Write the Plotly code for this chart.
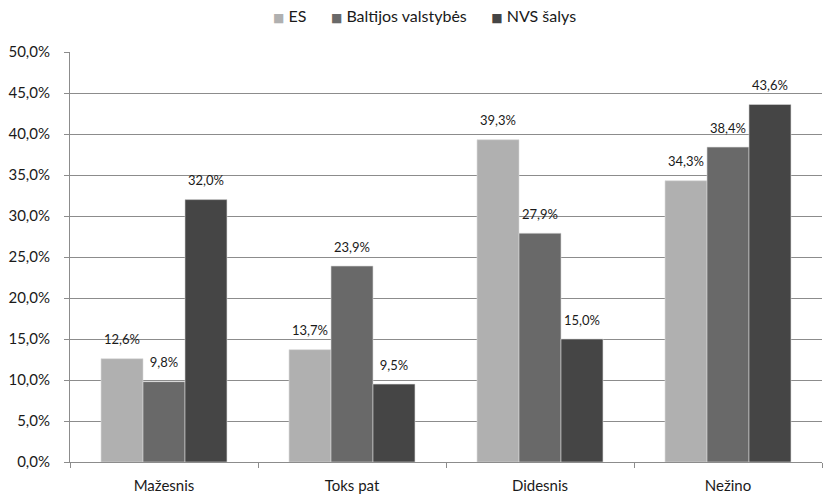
import plotly.graph_objects as go

categories = ["Mažesnis", "Toks pat", "Didesnis", "Nežino"]
es = [12.6, 13.7, 39.3, 34.3]
baltijos = [9.8, 23.9, 27.9, 38.4]
nvs = [32.0, 9.5, 15.0, 43.6]
series_names = ["ES", "Baltijos valstybės", "NVS šalys"]
colors = ["#b0b0b0", "#696969", "#454545"]

FONT = "Lato, Open Sans, sans-serif"

fig = go.Figure()
for name, vals, col in zip(series_names, [es, baltijos, nvs], colors):
    fig.add_trace(go.Bar(
        x=categories, y=vals, name=name, showlegend=False,
        marker=dict(color=col, line=dict(color="#d8d8d8", width=0.6)),
        hoverinfo="skip", offsetgroup=name, alignmentgroup="g",
    ))
for name, vals in zip(series_names, [es, baltijos, nvs]):
    fig.add_trace(go.Scatter(
        x=categories, y=vals, name=name, showlegend=False,
        mode="markers+text", marker=dict(size=16, opacity=0),
        text=[f"{v:.1f}%".replace(".", ",") for v in vals],
        textposition="top center", cliponaxis=False, hoverinfo="skip",
        textfont=dict(size=13, color="#1a1a1a", family=FONT),
        offsetgroup=name, alignmentgroup="g",
    ))

legend_text = "      ".join(
    f"<span style='color:{c}; font-family:DejaVu Sans; font-size:12px'>■</span> {n}"
    for n, c in zip(series_names, colors)
)
fig.add_annotation(
    xref="paper", yref="paper", x=0.471, y=1.088, xanchor="center", yanchor="middle",
    text=legend_text, showarrow=False, font=dict(size=16, family=FONT, color="#1a1a1a"),
)

fig.update_layout(
    width=823, height=495,
    barmode="group", bargap=0.33, bargroupgap=0,
    scattermode="group", scattergap=0.33,
    paper_bgcolor="white", plot_bgcolor="white",
    margin=dict(l=70, r=1, t=52, b=33, autoexpand=False),
    separators=", ",
    font=dict(family=FONT, size=15, color="#1a1a1a"),
    showlegend=False,
)
fig.update_yaxes(
    range=[0, 50], dtick=5, tickformat=".1f", ticksuffix="%",
    showgrid=True, gridcolor="#8c8c8c", gridwidth=1,
    showline=True, linecolor="#8c8c8c", linewidth=1,
    ticks="outside", ticklen=5, tickcolor="#8c8c8c",
    zeroline=False, tickfont=dict(size=15), automargin=False, ticklabelstandoff=11,
)
fig.update_xaxes(
    showline=True, linecolor="#8c8c8c", linewidth=1,
    ticks="outside", ticklen=5, tickcolor="#8c8c8c", tickson="boundaries",
    tickfont=dict(size=15), automargin=False, ticklabelstandoff=10,
)

fig.write_html("out.html", config={"displayModeBar": False},
               post_script="document.body.style.margin='0';")
